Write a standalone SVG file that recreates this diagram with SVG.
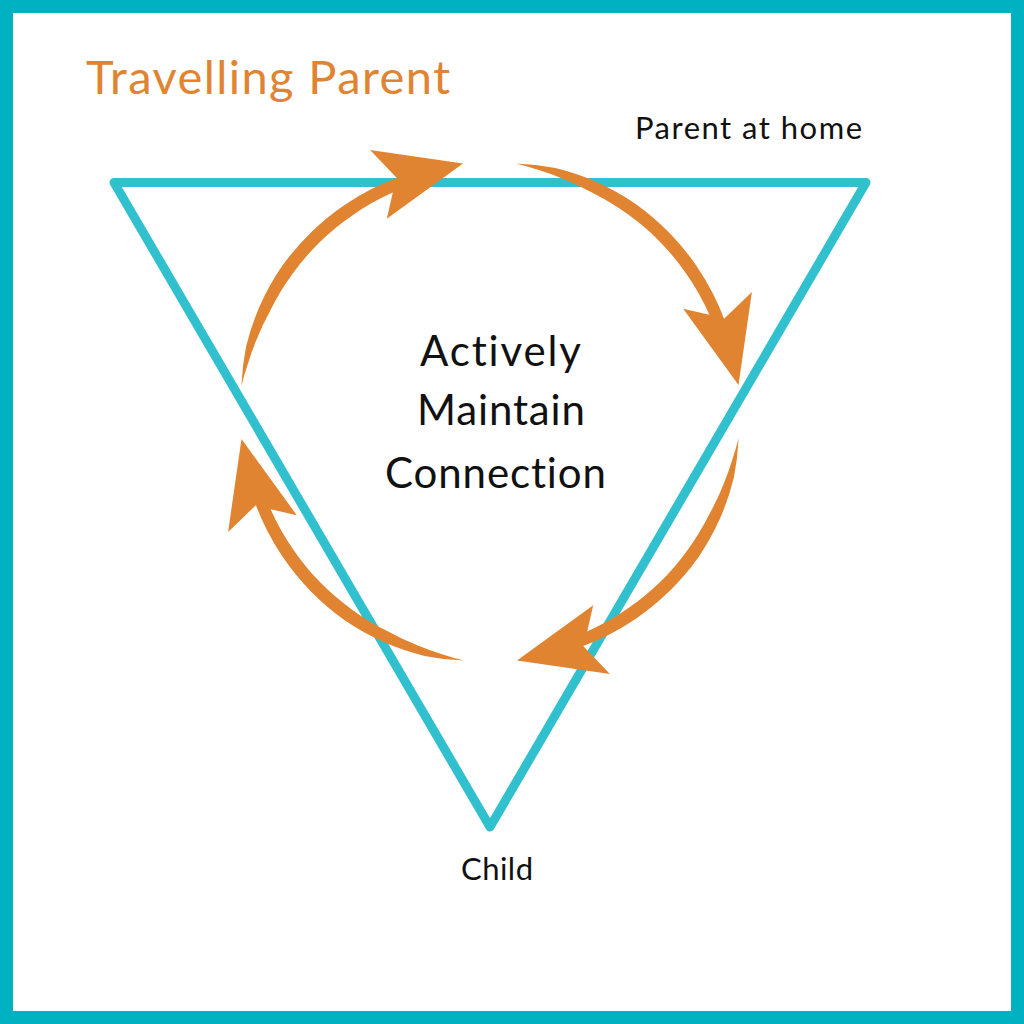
<svg xmlns="http://www.w3.org/2000/svg" width="1024" height="1024" viewBox="0 0 1024 1024">
  <style>
    .frame { fill: #ffffff; stroke: #00B1C1; stroke-width: 13; }
    .tri { fill: none; stroke: #31C0CE; stroke-width: 9; stroke-linejoin: round; stroke-linecap: round; }
    .arrow { fill: #E08431; }
    text { font-variant-ligatures: none; }
    .label { font-family: "Lato", "Noto Sans", "Liberation Sans", sans-serif; fill: #111111; }
    .title { font-family: "Lato", "Noto Sans", "Liberation Sans", sans-serif; fill: #E08431; font-size: 47px; }
  </style>
  <defs>
    <path id="curvedArrow" class="arrow" d="M -248.6 -26.1 A 252 252 0 0 1 -243.9 -65.4 A 253 253 0 0 1 -229.8 -107.1 A 254 254 0 0 1 -208.1 -145.7 A 254 254 0 0 1 -179.3 -179.3 A 253 253 0 0 1 -145.1 -207.2 A 253 253 0 0 1 -118.5 -222.9 A 252 252 0 0 1 -93.2 -234.1 L -119.9 -261.9 L -27.0 -248.5 L -103.2 -193.2 L -97.2 -219.4 A 240 240 0 0 0 -137.7 -196.6 A 240 240 0 0 0 -170.1 -170.1 A 241 241 0 0 0 -197.4 -138.2 A 242 242 0 0 0 -219.3 -102.3 A 244 244 0 0 0 -233.8 -71.5 A 246 246 0 0 0 -242.5 -47.1 A 248 248 0 0 0 -248.6 -26.1 Z"/>
  </defs>
  <rect class="frame" x="6.5" y="6.5" width="1011" height="1011"/>
  <g id="triangle">
    <polygon class="tri" points="114,182.5 866,182.5 490,827"/>
  </g>
  <g id="connectors" transform="translate(490 412)">
    <use href="#curvedArrow"/>
    <use href="#curvedArrow" transform="rotate(90)"/>
    <use href="#curvedArrow" transform="rotate(180)"/>
    <use href="#curvedArrow" transform="rotate(270)"/>
  </g>
  <g id="title">
    <text class="title" x="86" y="94" textLength="364" lengthAdjust="spacing">Travelling Parent</text>
  </g>
  <g id="parent-at-home">
    <text class="label" x="635" y="139" font-size="31" textLength="227" lengthAdjust="spacing">Parent at home</text>
  </g>
  <g id="child">
    <text class="label" x="461" y="880" font-size="31" textLength="72" lengthAdjust="spacing">Child</text>
  </g>
  <g id="center">
    <text class="label" x="420" y="366" font-size="42" textLength="161" lengthAdjust="spacing">Actively</text>
    <text class="label" x="417" y="425" font-size="42" textLength="168" lengthAdjust="spacing">Maintain</text>
    <text class="label" x="385" y="488" font-size="42" textLength="221" lengthAdjust="spacing">Connection</text>
  </g>
</svg>
